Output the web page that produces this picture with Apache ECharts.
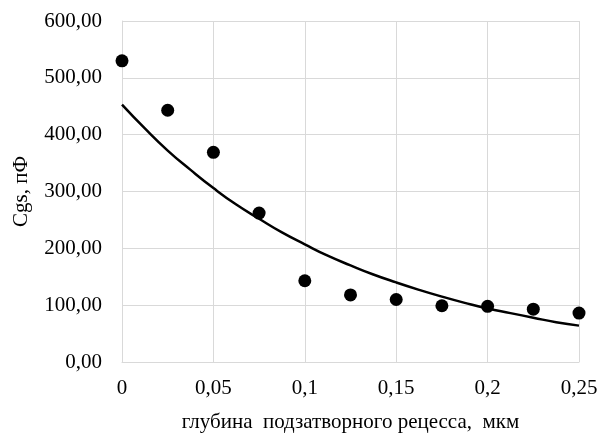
<!DOCTYPE html>
<html>
<head>
<meta charset="utf-8">
<script src="https://cdn.jsdelivr.net/npm/echarts@6/dist/echarts.min.js"></script>
<style>html,body{margin:0;padding:0;background:#fff}#c{width:607px;height:435px}</style>
</head>
<body>
<div id="c"></div>
<script>
// measured points
var depth = [0, 0.025, 0.05, 0.075, 0.1, 0.125, 0.15, 0.175, 0.2, 0.225, 0.25];
var cgs = [530, 443, 369, 262, 143, 118, 110, 99, 98, 93, 86];
// trend line
var trendX = [0, 0.0125, 0.025, 0.0375, 0.05, 0.0625, 0.075, 0.0875, 0.1, 0.1125, 0.125, 0.1375, 0.15, 0.1625, 0.175, 0.1875, 0.2, 0.2125, 0.225, 0.2375, 0.25];
var trendY = [453, 411, 372, 338, 306, 277, 252, 228, 207, 187, 170, 154, 140, 127, 115, 104, 94, 86, 78, 70, 64];
// tick labels
var xTickValues = [0, 0.05, 0.1, 0.15, 0.2, 0.25];
var xTickLabels = ['0', '0,05', '0,1', '0,15', '0,2', '0,25'];
var yTickValues = [0, 100, 200, 300, 400, 500, 600];
var yTickLabels = ['0,00', '100,00', '200,00', '300,00', '400,00', '500,00', '600,00'];
var xTitle = 'глубина  подзатворного рецесса,  мкм';
var yTitle = 'Cgs, пФ';

function lab(vals, labels, v) {
  for (var i = 0; i < vals.length; i++) if (Math.abs(vals[i] - v) < 1e-9) return labels[i];
  return '';
}
var font = '"Liberation Serif", "Times New Roman", serif';
var chart = echarts.init(document.getElementById('c'), null, {renderer: 'canvas'});
chart.setOption({
  animation: false,
  textStyle: {fontFamily: font},
  grid: {left: 122, right: 28, top: 21, bottom: 73, containLabel: false, outerBoundsMode: 'none'},
  xAxis: {
    type: 'value', min: 0, max: 0.25, interval: 0.05,
    name: xTitle, nameLocation: 'middle', nameGap: 50,
    nameTextStyle: {fontFamily: font, fontSize: 21, color: '#000'},
    axisLine: {show: true, onZero: false, lineStyle: {color: '#d9d9d9', width: 1}},
    axisTick: {show: false},
    splitLine: {show: true, lineStyle: {color: '#d9d9d9', width: 1}},
    axisLabel: {fontFamily: font, fontSize: 21, color: '#000', margin: 16,
      formatter: function (v) { return lab(xTickValues, xTickLabels, v); }}
  },
  yAxis: {
    type: 'value', min: 0, max: 600, interval: 100,
    name: yTitle, nameLocation: 'middle', nameGap: 90, nameRotate: 90,
    nameTextStyle: {fontFamily: font, fontSize: 21, color: '#000'},
    axisLine: {show: true, lineStyle: {color: '#d9d9d9', width: 1}},
    axisTick: {show: false},
    splitLine: {show: true, lineStyle: {color: '#d9d9d9', width: 1}},
    axisLabel: {fontFamily: font, fontSize: 21, color: '#000', margin: 20,
      formatter: function (v) { return lab(yTickValues, yTickLabels, v); }}
  },
  series: [
    {
      type: 'line', data: trendX.map(function (x, i) { return [x, trendY[i]]; }),
      smooth: true, showSymbol: false, symbol: 'none',
      lineStyle: {color: '#000', width: 2.5}, z: 2, silent: true
    },
    {
      type: 'scatter', data: depth.map(function (x, i) { return [x, cgs[i]]; }),
      symbol: 'circle', symbolSize: 13,
      itemStyle: {color: '#000', opacity: 1}, z: 3, clip: false
    }
  ]
});
</script>
</body>
</html>
